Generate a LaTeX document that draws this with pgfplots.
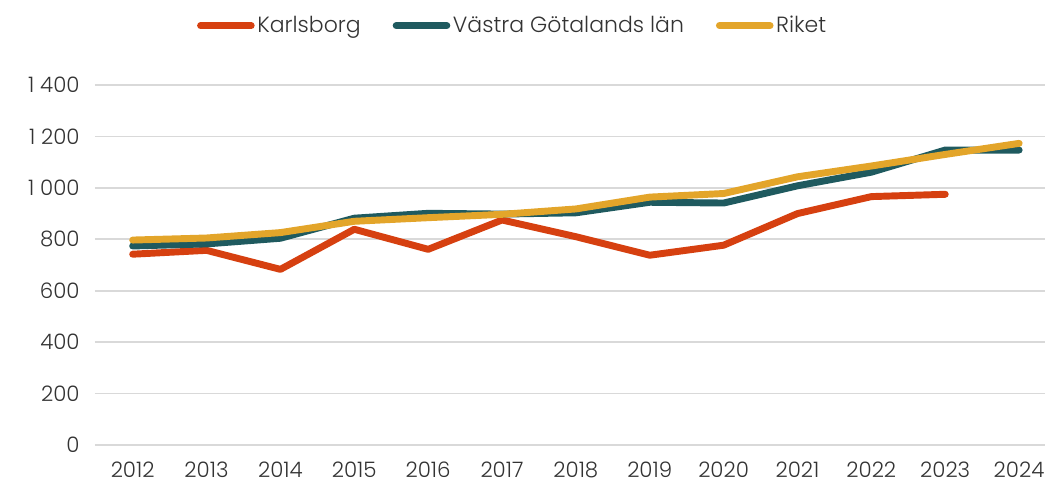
\documentclass[border=0pt]{standalone}
\usepackage{pgfplots}
\pgfplotsset{compat=1.18}
\usepackage{fontspec}
\setmainfont{Poppins}[UprightFont=* Light]
\definecolor{cK}{HTML}{D64010}
\definecolor{cV}{HTML}{1F5A5F}
\definecolor{cR}{HTML}{E3A52A}
\definecolor{gridc}{HTML}{D9D9D9}
\definecolor{txt}{HTML}{333333}
\begin{document}
\begin{tikzpicture}
\begin{axis}[
  at={(0,0)}, anchor=south west,
  scale only axis,
  width=712.5pt, height=270pt,
  xmin=2011.49, xmax=2024.35,
  ymin=0, ymax=1400,
  xtick={2012,...,2024},
  ytick={0,200,...,1400},
  axis line style={draw=none},
  tick style={draw=none},
  xmajorgrids=false,
  ymajorgrids=true,
  grid style={draw=gridc, line width=1.2pt},
  ticklabel style={font=\fontsize{16}{19}\selectfont, text=txt},
  /pgf/number format/assume math mode=true,
  /pgf/number format/1000 sep={\ },
  xticklabel style={/pgf/number format/1000 sep={}, yshift=-9pt},
  yticklabel style={xshift=-8pt},
  legend columns=3,
  legend style={draw=none, fill=none, at={(0.44,1.165)}, anchor=center,
    font=\fontsize{16.5}{19}\selectfont, text=txt,
    /tikz/every even column/.append style={column sep=22pt}},
  legend image code/.code={\draw[#1] (0pt,0pt) -- (38pt,0pt);},
  every axis plot/.append style={line width=5.2pt, line cap=round, line join=round, mark=none},
]
\addplot[cK] coordinates {(2012,742) (2013,757) (2014,683) (2015,839) (2016,761) (2017,875) (2018,810) (2019,738) (2020,777) (2021,900) (2022,966) (2023,975)};
\addlegendentry{Karlsborg}
\addplot[cV] coordinates {(2012,774) (2013,782) (2014,804) (2015,882) (2016,901) (2017,898) (2018,903) (2019,944) (2020,941) (2021,1008) (2022,1061) (2023,1147) (2024,1147)};
\addlegendentry{Västra Götalands län}
\addplot[cR] coordinates {(2012,797) (2013,805) (2014,826) (2015,870) (2016,884) (2017,897) (2018,918) (2019,964) (2020,978) (2021,1043) (2022,1085) (2023,1130) (2024,1173)};
\addlegendentry{Riket}
\end{axis}
\pgfresetboundingbox
\path (-71.25pt,-30.75pt) rectangle (713.25pt,333.75pt);
\end{tikzpicture}
\end{document}
